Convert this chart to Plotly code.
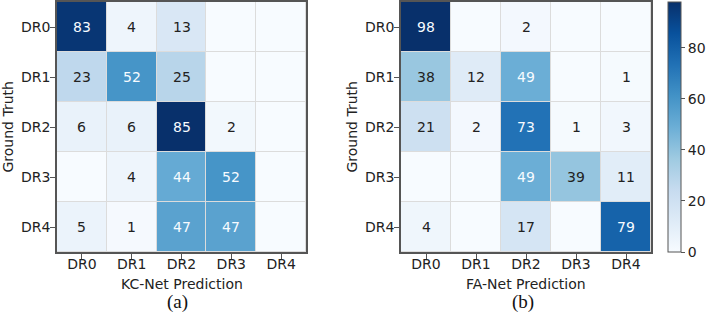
import plotly.graph_objects as go

W, H = 706, 319

classes = ["DR0", "DR1", "DR2", "DR3", "DR4"]

kc_net = [
    [83, 4, 13, 0, 0],
    [23, 52, 25, 0, 0],
    [6, 6, 85, 2, 0],
    [0, 4, 44, 52, 0],
    [5, 1, 47, 47, 0],
]

fa_net = [
    [98, 0, 2, 0, 0],
    [38, 12, 49, 0, 1],
    [21, 2, 73, 1, 3],
    [0, 0, 49, 39, 11],
    [4, 0, 17, 0, 79],
]

cbar_ticks = [0, 20, 40, 60, 80]

FONT = "DejaVu Sans"
TXT = "#222222"
FRAME = "#555555"

def px_x(p):
    return p / W

def px_y(p):
    return 1 - p / H

fig = go.Figure()

fig.add_trace(go.Heatmap(
    z=kc_net, x=classes, y=classes, colorscale="Blues", zmin=0, zmax=max(max(r) for r in kc_net),
    xgap=1, ygap=1, showscale=False, xaxis="x", yaxis="y", hoverinfo="skip"))

fig.add_trace(go.Heatmap(
    z=fa_net, x=classes, y=classes, colorscale="Blues", zmin=0, zmax=max(max(r) for r in fa_net),
    xgap=1, ygap=1, xaxis="x2", yaxis="y2", hoverinfo="skip",
    colorbar=dict(
        x=px_x(668), xanchor="left", xref="container", xpad=0, ypad=0,
        y=px_y(252), yanchor="bottom", yref="container",
        len=250, lenmode="pixels", thickness=13, thicknessmode="pixels",
        outlinewidth=1, outlinecolor=FRAME,
        tickvals=cbar_ticks, ticks="outside", ticklen=4, tickcolor=FRAME,
        tickfont=dict(family=FONT, size=14, color=TXT),
    )))

annotations = []
for mat, xr, yr in [(kc_net, "x", "y"), (fa_net, "x2", "y2")]:
    mx = max(max(r) for r in mat)
    thresh = mx / 2
    for i, row in enumerate(mat):
        for j, v in enumerate(row):
            if v == 0:
                continue
            annotations.append(dict(
                x=classes[j], y=classes[i], xref=xr, yref=yr, text=str(v), showarrow=False,
                font=dict(family=FONT, size=14, color="#f7fbff" if v >= thresh else TXT)))

# axis titles and panel labels
for cx, title in [(181.5, "KC-Net Prediction"), (526, "FA-Net Prediction")]:
    annotations.append(dict(x=px_x(cx), y=px_y(283.5), xref="paper", yref="paper", text=title,
                            showarrow=False, xanchor="center", yanchor="middle",
                            font=dict(family=FONT, size=14, color=TXT)))
for cx in [7.5, 351.5]:
    annotations.append(dict(x=px_x(cx), y=px_y(127), xref="paper", yref="paper", text="Ground Truth",
                            showarrow=False, xanchor="center", yanchor="middle", textangle=-90,
                            font=dict(family=FONT, size=14, color=TXT)))
for cx, lab in [(177.5, "(a)"), (522.5, "(b)")]:
    annotations.append(dict(x=px_x(cx), y=px_y(302), xref="paper", yref="paper", text=lab,
                            showarrow=False, xanchor="center", yanchor="middle",
                            font=dict(family="Liberation Serif", size=19, color="#111111")))

axis_common = dict(showline=True, mirror=True, linecolor=FRAME, linewidth=1.5,
                   ticks="outside", ticklen=5, tickcolor=FRAME, showgrid=False, zeroline=False,
                   automargin=False,
                   tickfont=dict(family=FONT, size=14, color=TXT))

fig.update_layout(
    width=W, height=H, margin=dict(l=0, r=0, t=0, b=0, autoexpand=False),
    paper_bgcolor="white", plot_bgcolor="#dcdcdc",
    xaxis=dict(domain=[px_x(57), px_x(306)], anchor="y", ticklabelstandoff=-7, **axis_common),
    yaxis=dict(domain=[px_y(252), px_y(2)], anchor="x", autorange="reversed", ticklabelstandoff=-3, **axis_common),
    xaxis2=dict(domain=[px_x(401), px_x(651)], anchor="y2", ticklabelstandoff=-7, **axis_common),
    yaxis2=dict(domain=[px_y(252), px_y(2)], anchor="x2", autorange="reversed", ticklabelstandoff=-3, **axis_common),
    annotations=annotations,
)

fig.write_html("out.html", config={"displayModeBar": False},
               post_script="document.body.style.margin='0';document.body.style.overflow='hidden';")
